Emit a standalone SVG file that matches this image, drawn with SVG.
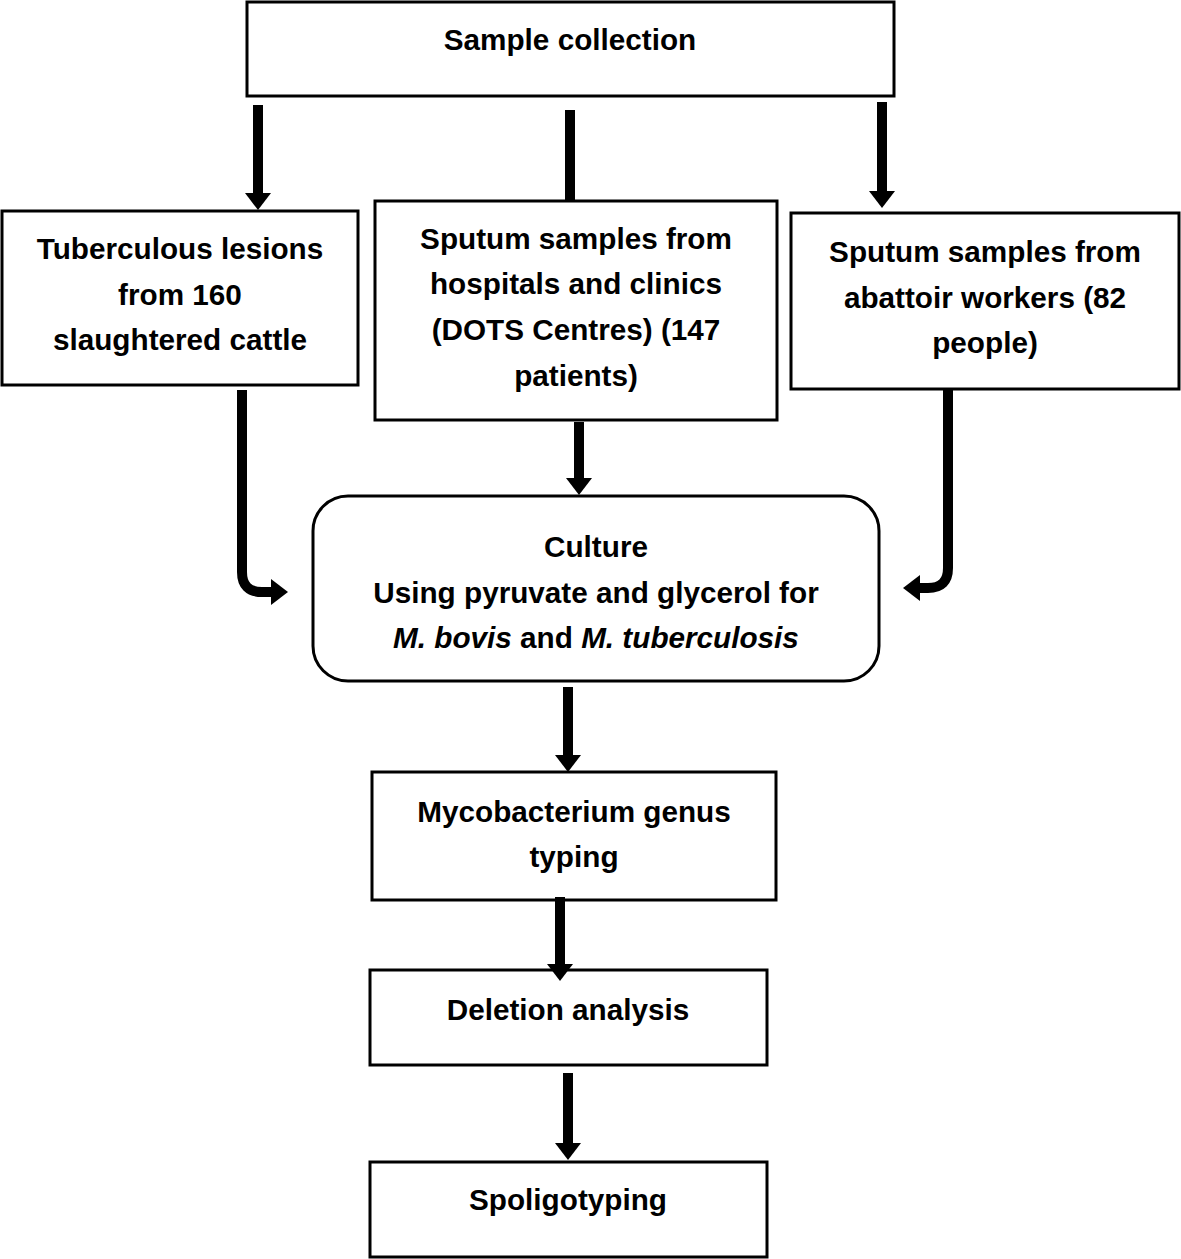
<svg xmlns="http://www.w3.org/2000/svg" width="1181" height="1259" viewBox="0 0 1181 1259">
<defs>
<style>
.box{fill:#fff;stroke:#000;stroke-width:3}
.t{font-family:"Liberation Sans",Arial,sans-serif;font-weight:bold;font-size:29.7px;text-anchor:middle;fill:#000}
.c{fill:none;stroke:#000;stroke-width:10}
</style>
<marker id="ah" markerUnits="userSpaceOnUse" markerWidth="18" markerHeight="26" refX="0" refY="13" orient="auto" viewBox="0 0 18 26">
<path d="M0,0 L17,13 L0,26 Z" fill="#000"/>
</marker>
</defs>
<rect width="1181" height="1259" fill="#fff"/>
<g id="n-sample"><rect class="box" x="247" y="2" width="647" height="94"/><text class="t" x="570" y="50">Sample collection</text></g>
<g id="n-lesions"><rect class="box" x="2" y="211" width="356" height="174"/>
<text class="t" x="180" y="259">Tuberculous lesions</text><text class="t" x="180" y="305">from 160</text><text class="t" x="180" y="350">slaughtered cattle</text></g>
<g id="n-hospital"><rect class="box" x="375" y="201" width="402" height="219"/>
<text class="t" x="576" y="249">Sputum samples from</text><text class="t" x="576" y="294">hospitals and clinics</text><text class="t" x="576" y="340">(DOTS Centres) (147</text><text class="t" x="576" y="386">patients)</text></g>
<g id="n-abattoir"><rect class="box" x="791" y="213" width="388" height="176"/>
<text class="t" x="985" y="262">Sputum samples from</text><text class="t" x="985" y="308">abattoir workers (82</text><text class="t" x="985" y="353">people)</text></g>
<g id="n-culture"><rect class="box" x="313" y="496" width="566" height="185" rx="35" ry="35"/>
<text class="t" x="596" y="557">Culture</text><text class="t" x="596" y="603">Using pyruvate and glycerol for</text>
<text class="t" x="596" y="648"><tspan font-style="italic">M. bovis</tspan> and <tspan font-style="italic">M. tuberculosis</tspan></text></g>
<g id="n-genus"><rect class="box" x="372" y="772" width="404" height="128"/>
<text class="t" x="574" y="822">Mycobacterium genus</text><text class="t" x="574" y="867">typing</text></g>
<g id="n-deletion"><rect class="box" x="370" y="970" width="397" height="95"/><text class="t" x="568" y="1020">Deletion analysis</text></g>
<g id="n-spoligo"><rect class="box" x="370" y="1162" width="397" height="95"/><text class="t" x="568" y="1210">Spoligotyping</text></g>
<g id="connectors">
<path class="c" d="M258,105 V193" marker-end="url(#ah)"/>
<path class="c" d="M570,110 V201"/>
<path class="c" d="M882,102 V191" marker-end="url(#ah)"/>
<path class="c" d="M579,422 V478" marker-end="url(#ah)"/>
<path class="c" d="M242,390 V572 Q242,592 262,592 H271" marker-end="url(#ah)"/>
<path class="c" d="M948,390 V568 Q948,588 928,588 H920" marker-end="url(#ah)"/>
<path class="c" d="M568,687 V755" marker-end="url(#ah)"/>
<path class="c" d="M560,897 V964" marker-end="url(#ah)"/>
<path class="c" d="M568,1073 V1143" marker-end="url(#ah)"/>
</g>
</svg>
